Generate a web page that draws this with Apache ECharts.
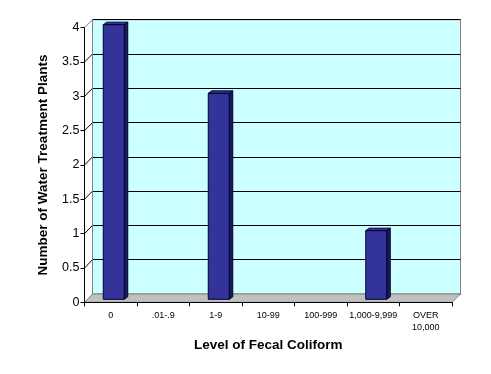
<!DOCTYPE html>
<html>
<head>
<meta charset="utf-8">
<script src="https://cdn.jsdelivr.net/npm/echarts@6/dist/echarts.min.js"></script>
<style>html,body{margin:0;padding:0;background:#fff}#c{width:491px;height:374px}</style>
</head>
<body>
<div id="c"></div>
<script>
// ---- data ----
var categories = ['0', '.01-.9', '1-9', '10-99', '100-999', '1,000-9,999', 'OVER\n10,000'];
var plantCounts = [4, 0, 3, 0, 0, 1, 0];
var yTicks = [0, 0.5, 1, 1.5, 2, 2.5, 3, 3.5, 4];
var xTitle = 'Level of Fecal Coliform';
var yTitle = 'Number of Water Treatment Plants';

// ---- layout ----
var W = 491, H = 374;
var FRONT = {left: 84.5, top: 27.7, right: W - 452, bottom: H - 302.3};
var BACK = {left: 92.5, top: 19.7, right: W - 460.5, bottom: H - 294};
var FONT = 'Liberation Sans, Arial, sans-serif';

var chart = echarts.init(document.getElementById('c'), null, {renderer: 'canvas'});

function renderBar(params, api) {
  var idx = api.value(0), val = api.value(1);
  if (!val) return null;
  var top = api.coord([idx, val]);
  var base = api.coord([idx, 0]);
  var cx = top[0] + 3, half = 10.5, dx = 3.5, dy = -2.5;
  var yT = top[1] - 3, yB = base[1] - 3;
  var L = cx - half, R = cx + half;
  var stroke = '#000033';
  return {
    type: 'group',
    children: [
      {type: 'polygon', shape: {points: [[R, yT], [R + dx, yT + dy], [R + dx, yB + dy], [R, yB]]},
        style: {fill: '#1c1c55', stroke: stroke, lineWidth: 1}},
      {type: 'polygon', shape: {points: [[L, yT], [L + dx, yT + dy], [R + dx, yT + dy], [R, yT]]},
        style: {fill: '#34349c', stroke: stroke, lineWidth: 1}},
      {type: 'rect', shape: {x: L, y: yT, width: R - L, height: yB - yT},
        style: {fill: '#333399', stroke: stroke, lineWidth: 1}}
    ]
  };
}

var option = {
  animation: false,
  backgroundColor: '#ffffff',
  grid: [
    {left: FRONT.left, top: FRONT.top, right: FRONT.right, bottom: FRONT.bottom, containLabel: false},
    {left: BACK.left, top: BACK.top, right: BACK.right, bottom: BACK.bottom, containLabel: false,
      show: true, backgroundColor: '#ccffff', borderColor: '#808080', borderWidth: 1, z: 0}
  ],
  xAxis: [
    {type: 'category', gridIndex: 0, data: categories, boundaryGap: true,
      axisLine: {show: true, lineStyle: {color: '#000', width: 1}},
      axisTick: {show: true, length: 4, interval: 0, lineStyle: {color: '#000'}},
      axisLabel: {interval: 0, fontSize: 9, lineHeight: 12, color: '#000', margin: 7, fontFamily: FONT},
      name: xTitle, nameLocation: 'middle', nameGap: 33,
      nameTextStyle: {fontSize: 13.5, fontWeight: 'bold', color: '#000', fontFamily: FONT},
      z: 10},
    {type: 'category', gridIndex: 1, data: categories, show: false}
  ],
  yAxis: [
    {type: 'value', gridIndex: 0, min: 0, max: 4, interval: 0.5,
      axisLine: {show: true, lineStyle: {color: '#000', width: 1}},
      axisTick: {show: true, length: 4, lineStyle: {color: '#000'}},
      axisLabel: {fontSize: 12.5, color: '#000', margin: 5, fontFamily: FONT},
      splitLine: {show: false},
      name: yTitle, nameLocation: 'middle', nameGap: 34, nameRotate: 90,
      nameTextStyle: {fontSize: 13.5, fontWeight: 'bold', color: '#000', fontFamily: FONT},
      z: 10},
    {type: 'value', gridIndex: 1, min: 0, max: 4, interval: 0.5,
      axisLine: {show: false}, axisTick: {show: false}, axisLabel: {show: false},
      splitLine: {show: true, lineStyle: {color: '#000', width: 1}}}
  ],
  series: [
    {type: 'custom', xAxisIndex: 0, yAxisIndex: 0, z: 5,
      data: plantCounts.map(function (v, i) { return [i, v]; }),
      renderItem: renderBar}
  ]
};
chart.setOption(option);

// side wall diagonals and floor, positioned from the axes' own scales
var gfx = [];
var fL = FRONT.left, fR = W - FRONT.right, bL = BACK.left, bR = W - BACK.right;
var f0 = chart.convertToPixel({yAxisIndex: 0}, 0);
var b0 = chart.convertToPixel({yAxisIndex: 1}, 0);
var bTop = chart.convertToPixel({yAxisIndex: 1}, 4);
gfx.push({type: 'polygon', z: 1, shape: {points: [[fL, f0], [bL, b0], [bL, bTop], [fL, chart.convertToPixel({yAxisIndex: 0}, 4)]]},
  style: {fill: '#ffffff', stroke: null}});
gfx.push({type: 'polygon', z: 2, shape: {points: [[fL, f0], [fR, f0], [bR, b0], [bL, b0]]},
  style: {fill: '#c0c0c0', stroke: '#808080', lineWidth: 1}});
yTicks.forEach(function (v) {
  var yf = chart.convertToPixel({yAxisIndex: 0}, v);
  var yb = chart.convertToPixel({yAxisIndex: 1}, v);
  var isEdge = (v === yTicks[yTicks.length - 1]);
  if (v === 0) return;
  gfx.push({type: 'line', z: 3, shape: {x1: fL, y1: yf, x2: bL, y2: yb},
    style: {stroke: isEdge ? '#808080' : '#000', lineWidth: 1}});
});
gfx.push({type: 'line', z: 3, shape: {x1: bL, y1: b0, x2: bL, y2: bTop}, style: {stroke: '#808080', lineWidth: 1}});
chart.setOption({graphic: gfx});
</script>
</body>
</html>
